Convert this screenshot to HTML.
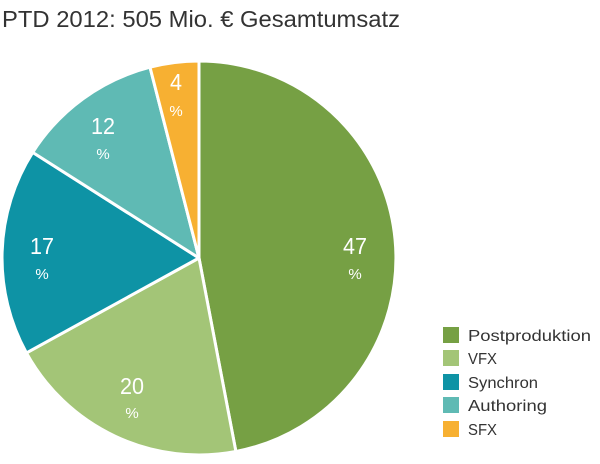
<!DOCTYPE html>
<html><head><meta charset="utf-8"><style>
body{margin:0;background:#fff;}
svg{display:block;}
text{font-family:"Liberation Sans",sans-serif;}
</style></head><body>
<svg width="600" height="464" viewBox="0 0 600 464">
<text x="2" y="27" font-size="23" fill="#333" textLength="398" lengthAdjust="spacingAndGlyphs">PTD 2012: 505 Mio. € Gesamtumsatz</text>
<g stroke="#fff" stroke-width="3" stroke-linejoin="round">
<path d="M199 258 L199 61 A197 197 0 0 1 235.9 451.5 Z" fill="#76a044"/>
<path d="M199 258 L235.9 451.5 A197 197 0 0 1 26.4 352.9 Z" fill="#a3c577"/>
<path d="M199 258 L26.4 352.9 A197 197 0 0 1 32.7 152.4 Z" fill="#0e93a5"/>
<path d="M199 258 L32.7 152.4 A197 197 0 0 1 150 67.2 Z" fill="#5fbab4"/>
<path d="M199 258 L150 67.2 A197 197 0 0 1 199 61 Z" fill="#f7b032"/>
</g>
<g fill="#fff" text-anchor="middle">
<text x="355" y="254" font-size="23" textLength="24" lengthAdjust="spacingAndGlyphs">47</text><text x="355" y="279" font-size="15">%</text>
<text x="132" y="394" font-size="23" textLength="24" lengthAdjust="spacingAndGlyphs">20</text><text x="132" y="418" font-size="15">%</text>
<text x="42" y="254" font-size="23" textLength="24" lengthAdjust="spacingAndGlyphs">17</text><text x="42" y="279" font-size="15">%</text>
<text x="103" y="134" font-size="23" textLength="24" lengthAdjust="spacingAndGlyphs">12</text><text x="103" y="159" font-size="15">%</text>
<text x="176" y="90" font-size="23" textLength="12" lengthAdjust="spacingAndGlyphs">4</text><text x="176" y="116" font-size="15">%</text>
</g>
<g font-size="16" fill="#333">
<rect x="443" y="327" width="16" height="16" fill="#76a044"/><text x="468" y="341" textLength="123" lengthAdjust="spacingAndGlyphs">Postproduktion</text>
<rect x="443" y="350" width="16" height="16" fill="#a3c577"/><text x="468" y="364" textLength="29" lengthAdjust="spacingAndGlyphs">VFX</text>
<rect x="443" y="374" width="16" height="16" fill="#0e93a5"/><text x="468" y="388" textLength="70" lengthAdjust="spacingAndGlyphs">Synchron</text>
<rect x="443" y="397" width="16" height="16" fill="#5fbab4"/><text x="468" y="411" textLength="79" lengthAdjust="spacingAndGlyphs">Authoring</text>
<rect x="443" y="421" width="16" height="16" fill="#f7b032"/><text x="468" y="435" textLength="29" lengthAdjust="spacingAndGlyphs">SFX</text>
</g>
</svg>
</body></html>
